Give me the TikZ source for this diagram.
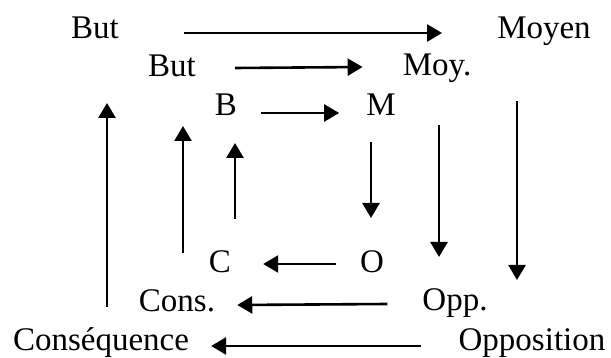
\documentclass[tikz,border=0pt]{standalone}
\usepackage{fontspec}
\setmainfont{Liberation Serif}
\usetikzlibrary{arrows.meta}

\tikzset{
  term/.style={anchor=base,inner sep=0pt,font=\fontsize{33}{38}\selectfont},
  arr/.style={line width=2.6pt,-{Triangle[length=15pt,width=17pt]}}
}

\begin{document}
\begin{tikzpicture}[x=1pt,y=-1pt]
\useasboundingbox (0,0) rectangle (611,358);

%Outer square
\node[term] (but1) at (95,39) {But};
\node[term] (moyen1) at (544,39) {Moyen};
\node[term] (opp1) at (532,350) {Opposition};
\node[term] (cons1) at (101,350) {Conséquence};

%Middle square
\node[term] (but2) at (172,77) {But};
\node[term] (moyen2) at (437,76) {Moy.};
\node[term] (opp2) at (455,311) {Opp.};
\node[term] (cons2) at (177,312) {Cons.};

%Inner square
\node[term] (but3) at (226,116) {B};
\node[term] (moyen3) at (381,116) {M};
\node[term] (opp3) at (372,273) {O};
\node[term] (cons3) at (220,273) {C};

%Vertical ends
\coordinate (v1a) at (107,307); \coordinate (v1b) at (107,103);
\coordinate (v2a) at (183,253); \coordinate (v2b) at (183,126);
\coordinate (v3a) at (235,219); \coordinate (v3b) at (235,143);
\coordinate (v4a) at (371,142); \coordinate (v4b) at (371,218);
\coordinate (v5a) at (439,125); \coordinate (v5b) at (439,257);
\coordinate (v6a) at (517,101); \coordinate (v6b) at (517,280);

%Top arrows
\draw[arr] ([xshift=65pt,yshift=6pt]but1.base east) -- ([xshift=-55pt,yshift=6pt]moyen1.base west);
\draw[arr] ([xshift=39pt,yshift=9pt]but2.base east) -- ([xshift=-40pt,yshift=9pt]moyen2.base west);
\draw[arr] ([xshift=24pt,yshift=3pt]but3.base east) -- ([xshift=-27pt,yshift=3pt]moyen3.base west);

%Bottom arrows
\draw[arr] ([xshift=-24pt,yshift=9pt]opp3.base west) -- ([xshift=32pt,yshift=9pt]cons3.base east);
\draw[arr] ([xshift=-35pt,yshift=7pt]opp2.base west) -- ([xshift=22pt,yshift=7pt]cons2.base east);
\draw[arr] ([xshift=-37pt,yshift=4pt]opp1.base west) -- ([xshift=22pt,yshift=4pt]cons1.base east);

%Side arrows
\draw[arr] (v1a) -- (v1b);
\draw[arr] (v2a) -- (v2b);
\draw[arr] (v3a) -- (v3b);
\draw[arr] (v4a) -- (v4b);
\draw[arr] (v5a) -- (v5b);
\draw[arr] (v6a) -- (v6b);
\end{tikzpicture}
\end{document}
